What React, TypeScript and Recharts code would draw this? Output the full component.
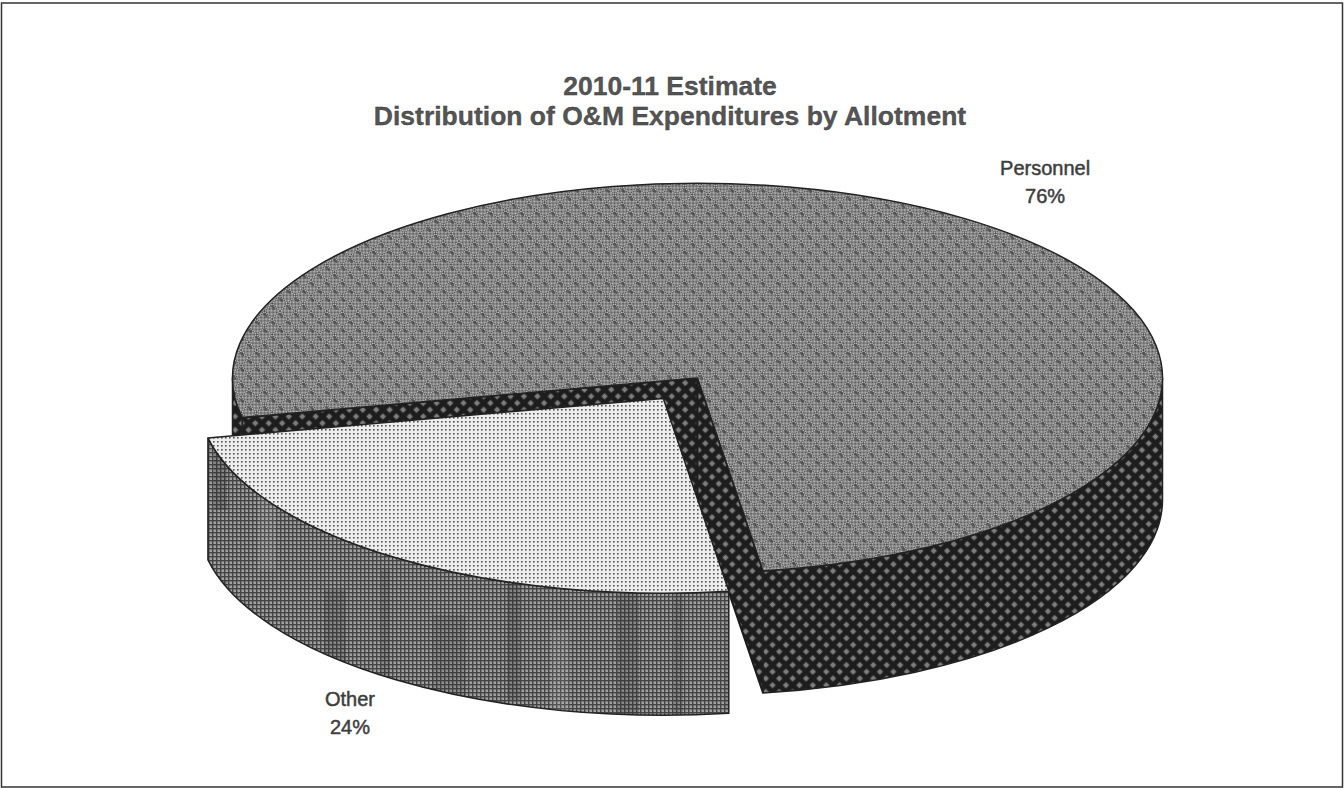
import React from 'react'
import { PieChart, Pie } from 'recharts'

const sliceNames = ['Personnel', 'Other']
const sliceValues = [76, 24]
const sliceExplode = [0, 0.128]
const titleLines = ['2010-11 Estimate', 'Distribution of O&M Expenditures by Allotment']

const chartData = sliceNames.map((name, i) => ({ name, value: sliceValues[i] }))

const SQUASH = 0.419
const DEPTH = 122
const RAD = Math.PI / 180

const topFill = ['url(#topPersonnel)', 'url(#topOther)']
const wallFill = ['url(#wallPersonnel)', 'url(#wallOther)']

const Slice3D = (props: any) => {
  const { cx, cy, outerRadius, startAngle, endAngle, midAngle, index } = props
  const rx = outerRadius
  const ry = outerRadius * SQUASH
  const boom = sliceExplode[index] || 0
  const mid = midAngle * RAD
  const ox = cx + Math.cos(mid) * rx * boom
  const oy = cy - Math.sin(mid) * ry * boom
  const pt = (a: number) => [ox + rx * Math.cos(a * RAD), oy - ry * Math.sin(a * RAD)]

  const hi = Math.max(startAngle, endAngle)
  const lo = Math.min(startAngle, endAngle)
  const [sx, sy] = pt(hi)
  const [ex, ey] = pt(lo)
  const large = hi - lo > 180 ? 1 : 0
  const top = `M${ox},${oy} L${sx},${sy} A${rx},${ry} 0 ${large} 1 ${ex},${ey} Z`

  // cut faces, only the big slice shows them
  const cut = (x: number, y: number) =>
    `M${ox},${oy} L${x},${y} L${x},${y + DEPTH} L${ox},${oy + DEPTH} Z`

  // outer wall, only the part on the front half of the ellipse
  const walls: string[] = []
  for (const k of [-1, 0, 1]) {
    const a = Math.max(lo, 180 + 360 * k)
    const b = Math.min(hi, 360 + 360 * k)
    if (b <= a) continue
    const [ax, ay] = pt(a)
    const [bx, by] = pt(b)
    walls.push(
      `M${ax},${ay} A${rx},${ry} 0 0 0 ${bx},${by} L${bx},${by + DEPTH} A${rx},${ry} 0 0 1 ${ax},${ay + DEPTH} Z`
    )
  }

  return (
    <g>
      {index === 0 && (
        <>
          <path d={cut(sx, sy)} fill="url(#wallPersonnel)" stroke="#1c1c1c" strokeWidth={2} />
          <path d={cut(ex, ey)} fill="url(#wallPersonnel)" stroke="#1c1c1c" strokeWidth={2} />
        </>
      )}
      {walls.map((d, i) => (
        <g key={i}>
          <path d={d} fill={wallFill[index]} stroke="#222" strokeWidth={1.5} />
          {index === 1 && <path d={d} fill="url(#mottle)" />}
        </g>
      ))}
      <path d={top} fill={topFill[index]} stroke="#222" strokeWidth={1.5} strokeLinejoin="round" />
    </g>
  )
}

const SliceLabel = (props: any) => {
  const { cx, cy, outerRadius, midAngle, name, percent } = props
  const mid = midAngle * RAD
  const down = Math.sin(mid) < 0
  const x = cx + Math.cos(mid) * outerRadius * 1.3
  const y = cy - Math.sin(mid) * outerRadius * SQUASH * 1.3 + (down ? DEPTH - 5 : 0)
  return (
    <text
      x={x}
      textAnchor="middle"
      fontFamily="Liberation Sans"
      fontSize={20}
      fill="#3c3c3c"
      stroke="#444"
      strokeWidth={0.5}
    >
      <tspan x={x} y={y + 4}>{name}</tspan>
      <tspan x={x} y={y + 32}>{Math.round(percent * 100)}%</tspan>
    </text>
  )
}

export default function App() {
  return (
    <div style={{ position: 'absolute', left: 0, top: 0, width: 1344, height: 788, background: '#fff' }}>
      <PieChart width={1344} height={788} margin={{ top: 0, right: 0, bottom: 0, left: 0 }}>
        <defs>
          <pattern id="fine" width="2" height="2" patternUnits="userSpaceOnUse">
            <rect width="2" height="2" fill="#c0c0c0" />
            <rect width="1" height="1" fill="#505050" />
            <rect x="1" y="1" width="1" height="1" fill="#505050" />
          </pattern>
          <pattern id="topPersonnel" width="11" height="11" patternUnits="userSpaceOnUse" patternTransform="rotate(45)">
            <rect width="11" height="11" fill="url(#fine)" />
            <rect x="1" y="1" width="5" height="2.5" fill="#444" opacity="0.75" />
          </pattern>
          <pattern id="wallPersonnel" width="9.5" height="9.5" patternUnits="userSpaceOnUse" patternTransform="rotate(45)">
            <rect width="9.5" height="9.5" fill="#1d1d1d" />
            <rect x="2.5" y="2.5" width="4.5" height="4.5" fill="#7d7d7d" />
          </pattern>
          <pattern id="topOther" width="4" height="4" patternUnits="userSpaceOnUse">
            <rect width="4" height="4" fill="#eeeeee" />
            <rect x="1" y="1" width="1.6" height="1.6" fill="#505050" />
          </pattern>
          <pattern id="wallOther" width="4" height="4" patternUnits="userSpaceOnUse">
            <rect width="4" height="4" fill="#a0a0a0" />
            <rect width="4" height="1.4" fill="#444" />
            <rect width="1.4" height="4" fill="#444" />
          </pattern>
          <pattern id="mottle" width="293" height="190" patternUnits="userSpaceOnUse">
            <rect x="31" y="20" width="22" height="130" fill="#222" opacity="0.2" />
            <rect x="88" y="0" width="9" height="170" fill="#222" opacity="0.18" />
            <rect x="139" y="45" width="34" height="95" fill="#222" opacity="0.14" />
            <rect x="214" y="10" width="13" height="120" fill="#222" opacity="0.22" />
            <rect x="258" y="60" width="18" height="130" fill="#fff" opacity="0.08" />
          </pattern>
        </defs>
        <rect x={1.5} y={3} width={1341} height={784} fill="#fff" stroke="#333" strokeWidth={1.5} />
        <text textAnchor="middle" fontFamily="Liberation Sans" fontWeight="bold" fontSize={26.5} fill="#555" stroke="#333" strokeWidth={0.3}>
          <tspan x={670} y={95}>{titleLines[0]}</tspan>
          <tspan x={670} y={125}>{titleLines[1]}</tspan>
        </text>
        <Pie
          data={chartData}
          dataKey="value"
          nameKey="name"
          cx={697.5}
          cy={378}
          innerRadius={0}
          outerRadius={465}
          startAngle={191.7}
          endAngle={-168.3}
          paddingAngle={0}
          stroke="none"
          shape={Slice3D}
          label={SliceLabel}
          labelLine={false}
          isAnimationActive={false}
        />
      </PieChart>
    </div>
  )
}
